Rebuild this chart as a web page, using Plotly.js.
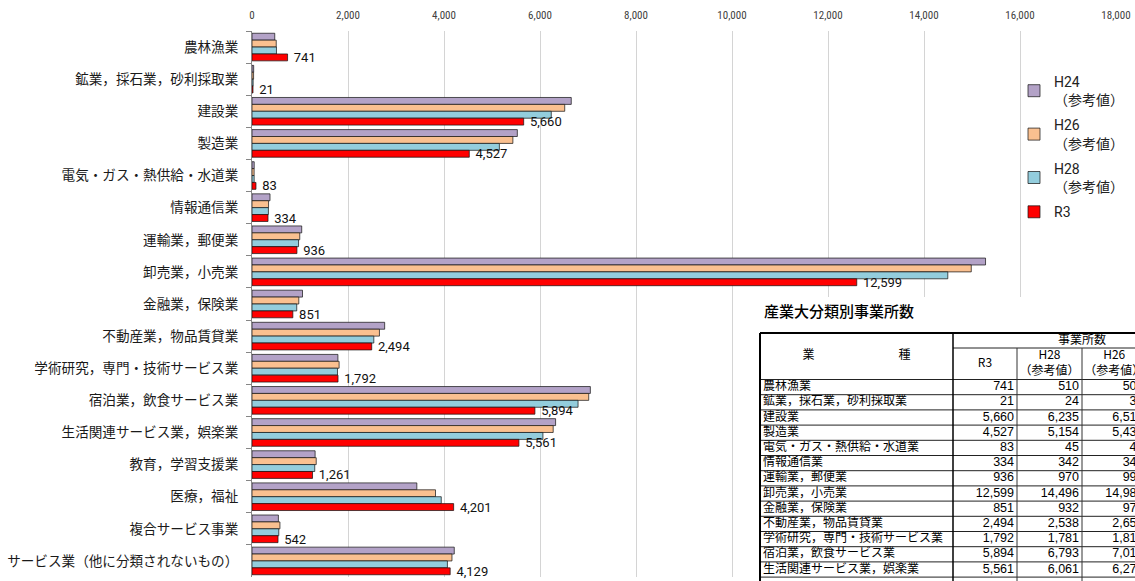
<!DOCTYPE html>
<html><head><meta charset="utf-8">
<script src="https://cdn.plot.ly/plotly-3.0.1.min.js"></script>
<style>html,body{margin:0;padding:0;background:#fff}#chart{width:1135px;height:581px}</style>
</head><body><div id="chart"></div>
<script>
// ---------------- data ----------------
const categories = [
  '農林漁業','鉱業，採石業，砂利採取業','建設業','製造業','電気・ガス・熱供給・水道業',
  '情報通信業','運輸業，郵便業','卸売業，小売業','金融業，保険業','不動産業，物品賃貸業',
  '学術研究，専門・技術サービス業','宿泊業，飲食サービス業','生活関連サービス業，娯楽業',
  '教育，学習支援業','医療，福祉','複合サービス事業','サービス業（他に分類されないもの）'
];
const h24 = [474, 35, 6651, 5528, 46, 375, 1036, 15282, 1052, 2764, 1790, 7049, 6325, 1315, 3434, 550, 4214];
const h26 = [505, 33, 6515, 5435, 44, 345, 995, 14985, 975, 2655, 1815, 7015, 6275, 1338, 3823, 582, 4166];
const h28 = [510, 24, 6235, 5154, 45, 342, 970, 14496, 932, 2538, 1781, 6793, 6061, 1307, 3943, 558, 4071];
const r3  = [741, 21, 5660, 4527, 83, 334, 936, 12599, 851, 2494, 1792, 5894, 5561, 1261, 4201, 542, 4129];
const seriesNames = ['H24<br>（参考値）', 'H26<br>（参考値）', 'H28<br>（参考値）', 'R3'];
const seriesColors = ['#B3A2C7', '#FAC090', '#93CDDD', '#FF0000'];
const xTickValues = [0, 2000, 4000, 6000, 8000, 10000, 12000, 14000, 16000, 18000];

const tableTitle = '産業大分類別事業所数';
const tableGroupLabel = '事業所数';
const tableKindLabel = '業　　　　　　　種';
const tableColumnLabels = ['R3', 'H28<br>（参考値）', 'H26<br>（参考値）', 'H24<br>（参考値）'];
const tableRowCount = 13;

// ---------------- layout geometry ----------------
const W = 1135, H = 581;
const px = v => v / W, py = v => 1 - v / H;

const CJK = 'Noto Sans CJK JP, sans-serif';
const NUM = 'Liberation Sans, Arial, sans-serif';

const seriesData = [h24, h26, h28, r3];
const traces = seriesData.map((vals, k) => {
  const t = {
    type: 'bar', orientation: 'h', name: seriesNames[k], legendgroup: 'g' + k,
    x: vals, y: categories, xaxis: 'x', yaxis: 'y',
    marker: {color: seriesColors[k], line: {color: 'rgba(20,20,20,0.9)', width: 0.8}},
    hoverinfo: 'x+name'
  };
  if (k === 3) {
    t.texttemplate = '\u00a0%{x:,}';
    t.textposition = 'outside';
    t.constraintext = 'none';
    t.cliponaxis = false;
    t.textfont = {family: 'Roboto, sans-serif', size: 13, color: '#111'};
  } else {
    t.textposition = 'none';
  }
  return t;
});

// ---- table (own invisible axes, units = pixels) ----
const colEdges = [0, 193, 257, 322, 386.5, 451];
const hdrGroupBottom = 15, hdrBottom = 46.5, rowH = 15.2;
const tableCats = categories.slice(0, tableRowCount);
const rowCenters = tableCats.map((_, i) => hdrBottom + (i + 0.5) * rowH);
const fmt = v => v.toLocaleString('en-US');

traces.push({
  type: 'scatter', mode: 'text', xaxis: 'x2', yaxis: 'y2', showlegend: false, hoverinfo: 'skip',
  x: tableCats.map(() => colEdges[0] + 3), y: rowCenters, text: tableCats,
  textposition: 'middle right', textfont: {family: CJK, size: 12, color: '#000'}
});
const tableCols = [r3, h28, h26, h24];
tableCols.forEach((col, c) => {
  traces.push({
    type: 'scatter', mode: 'text', xaxis: 'x2', yaxis: 'y2', showlegend: false, hoverinfo: 'skip',
    x: tableCats.map(() => colEdges[c + 2] - 3), y: rowCenters,
    text: col.slice(0, tableRowCount).map(fmt),
    textposition: 'middle left', textfont: {family: NUM, size: 12.5, color: '#000'}
  });
});
// headers
traces.push({
  type: 'scatter', mode: 'text', xaxis: 'x2', yaxis: 'y2', showlegend: false, hoverinfo: 'skip',
  x: [ (colEdges[0] + colEdges[1]) / 2, (colEdges[1] + colEdges[5]) / 2 ].concat(
       tableColumnLabels.map((_, c) => (colEdges[c + 1] + colEdges[c + 2]) / 2)),
  y: [ hdrBottom / 2, hdrGroupBottom / 2 + 0.5 ].concat(
       tableColumnLabels.map(() => (hdrGroupBottom + hdrBottom) / 2)),
  text: [tableKindLabel, tableGroupLabel].concat(tableColumnLabels),
  textposition: 'middle center', textfont: {family: CJK, size: 12, color: '#000'}
});

// table lines
const shapes = [];
const L = (x0, y0, x1, y1, w, c) => shapes.push({type: 'line', xref: 'x2', yref: 'y2', x0, y0, x1, y1,
  line: {color: c || '#000', width: w}, layer: 'above'});
L(0, 0, colEdges[5], 0, 2);
L(colEdges[1], hdrGroupBottom, colEdges[5], hdrGroupBottom, 1, '#222');
L(0, hdrBottom, colEdges[5], hdrBottom, 1, '#222');
for (let i = 1; i <= tableRowCount; i++) L(0, hdrBottom + i * rowH, colEdges[5], hdrBottom + i * rowH, 1, '#222');
L(0, 0, 0, 260, 2);
L(colEdges[1], 0, colEdges[1], 260, 1.5);
for (let c = 2; c <= 4; c++) L(colEdges[c], hdrGroupBottom, colEdges[c], 260, 1, '#333');

// white cover over chart gridlines behind the table
shapes.push({type: 'rect', xref: 'x', yref: 'y', x0: 10300, x1: 18000, y0: 7.78, y1: 16.5,
  fillcolor: '#fff', line: {width: 0}, layer: 'between'});

const layout = {
  width: W, height: H,
  margin: {l: 0, r: 0, t: 0, b: 0},
  paper_bgcolor: '#fff', plot_bgcolor: 'rgba(0,0,0,0)',
  barmode: 'group', bargap: 0.14, bargroupgap: 0,
  showlegend: true,
  legend: {x: px(1014), y: py(66), xanchor: 'left', yanchor: 'top',
    font: {family: 'Roboto, ' + CJK, size: 14, color: '#222'}, bgcolor: 'rgba(0,0,0,0)',
    traceorder: 'grouped', tracegroupgap: 4},
  xaxis: {domain: [px(252), px(1116)], range: [0, 18000], side: 'top', anchor: 'y',
    tickvals: xTickValues, tickformat: ',', showgrid: true, gridcolor: '#d4d4d4', gridwidth: 1,
    zeroline: false, showline: false, ticks: '', ticklabelstandoff: 9,
    tickfont: {family: 'Liberation Sans Narrow, Roboto Condensed, Roboto, sans-serif', size: 11, color: '#404040'},
    fixedrange: true, automargin: false},
  yaxis: {domain: [py(577), py(31)], type: 'category', range: [categories.length - 0.5, -0.5], autorange: false, anchor: 'x',
    showline: true, linecolor: '#868686', linewidth: 1, showgrid: false,
    ticks: 'outside', tickson: 'boundaries', ticklen: 5, tickcolor: '#868686',
    ticklabelstandoff: 10,
    tickfont: {family: CJK, size: 13.6, color: '#1a1a1a'}, fixedrange: true, automargin: false},
  xaxis2: {domain: [px(758), 1], range: [-2, 375], anchor: 'y2', visible: false, fixedrange: true},
  yaxis2: {domain: [0, py(331)], range: [248, -2], anchor: 'x2', visible: false, fixedrange: true},
  shapes: shapes,
  annotations: [{xref: 'paper', yref: 'paper', x: px(762), y: py(310), xanchor: 'left', yanchor: 'middle',
    text: tableTitle, showarrow: false, font: {family: CJK, size: 15, color: '#000', weight: 500}}]
};

Plotly.newPlot('chart', traces, layout, {displayModeBar: false, staticPlot: true});
</script></body></html>
